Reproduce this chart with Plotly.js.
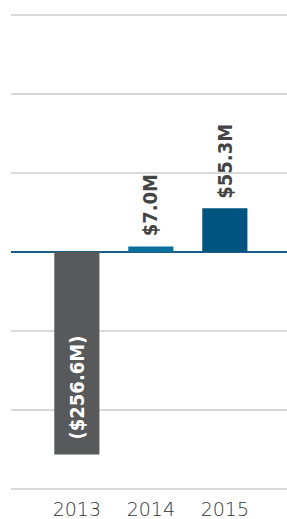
<!DOCTYPE html>
<html>
<head>
<meta charset="utf-8">
<script src="https://cdn.plot.ly/plotly-3.0.1.min.js"></script>
<style>html,body{margin:0;padding:0;background:#fff;}#chart{width:287px;height:519px;}</style>
</head>
<body>
<div id="chart"></div>
<script>
const years = ["2013", "2014", "2015"];
const values = [-256.6, 7.0, 55.3];
const labels = ["($256.6M)", "$7.0M", "$55.3M"];
const barColors = ["#58595b", "#0a6f9c", "#00547f"];
const textColors = ["#ffffff", "#444444", "#444444"];
const yTicks = [-300, -200, -100, 0, 100, 200, 300];

const trace = {
  type: "bar",
  x: years,
  y: values,
  marker: {color: barColors},
  hoverinfo: "none"
};

// category axis: annotation x given as the category index
const annotations = years.map((yr, i) => ({
  x: i,
  y: values[i],
  xref: "x",
  yref: "y",
  text: labels[i],
  showarrow: false,
  textangle: -90,
  xanchor: "center",
  yanchor: "bottom",
  yshift: values[i] < 0 ? 14 : 9,
  borderpad: 0,
  font: {family: "DejaVu Sans Condensed, DejaVu Sans", size: 20, color: textColors[i], weight: "bold"}
}));

const layout = {
  width: 287, height: 519,
  margin: {l: 11, r: 0, t: 14, b: 29},
  paper_bgcolor: "#ffffff",
  plot_bgcolor: "#ffffff",
  showlegend: false,
  bargap: 0.39,
  annotations: annotations,
  xaxis: {
    type: "category",
    range: [-0.89, 2.84],
    showgrid: false,
    zeroline: false,
    showline: false,
    ticks: "",
    tickfont: {family: "DejaVu Sans", size: 19, color: "#333333", weight: 200},
    ticklabelstandoff: 6
  },
  yaxis: {
    range: [-301.5, 301.5],
    tickvals: yTicks,
    showticklabels: false,
    showgrid: true,
    gridcolor: "#d9d9d9",
    gridwidth: 1.5,
    zeroline: true,
    zerolinecolor: "#1b5c8a",
    zerolinewidth: 2.5,
    fixedrange: true
  }
};

Plotly.newPlot("chart", [trace], layout, {displayModeBar: false, staticPlot: true});
</script>
</body>
</html>
